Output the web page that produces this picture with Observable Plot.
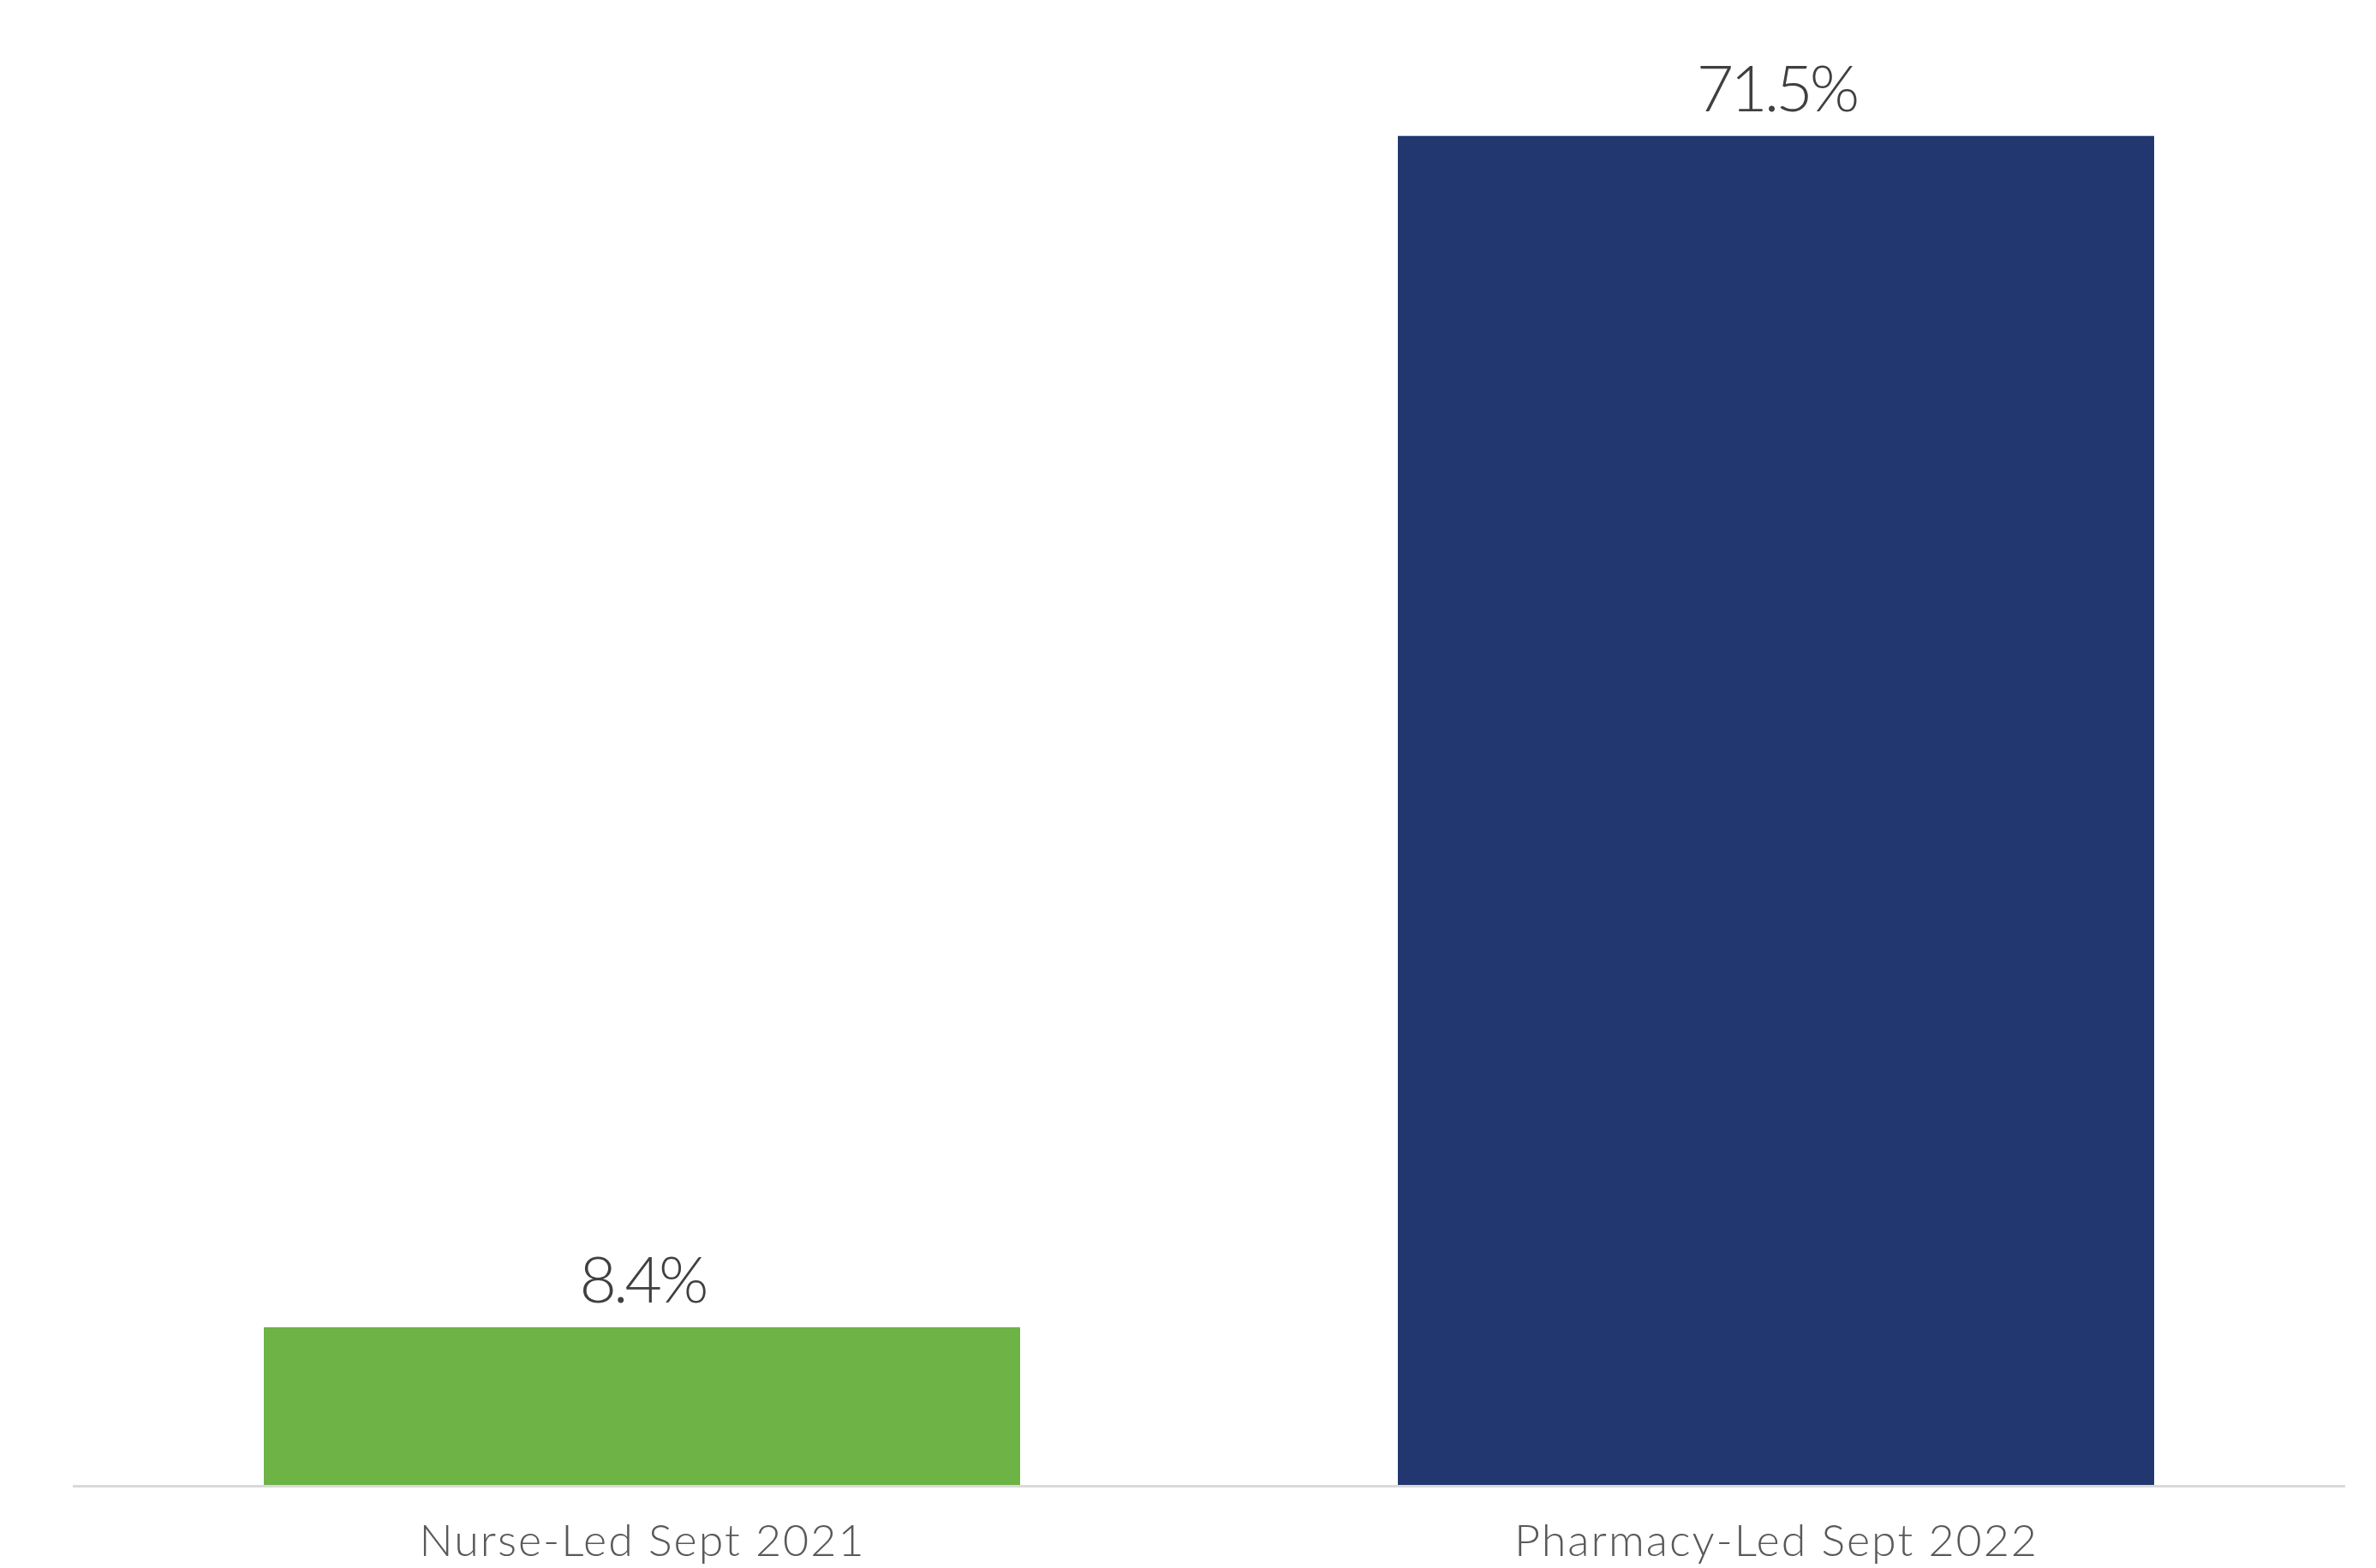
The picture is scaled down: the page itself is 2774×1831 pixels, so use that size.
<!DOCTYPE html>
<html>
<head>
<meta charset="utf-8">
<script src="https://cdn.jsdelivr.net/npm/d3@7"></script>
<script src="https://cdn.jsdelivr.net/npm/@observablehq/plot@0.6"></script>
<style>
  html, body { margin: 0; padding: 0; background: #ffffff; }
  #chart { width: 2774px; height: 1831px; }
  .axis-x text { letter-spacing: 2px; }
  .value-label text { letter-spacing: -4px; }
</style>
</head>
<body>
<div id="chart"></div>
<script>
const categories = ["Nurse-Led Sept 2021", "Pharmacy-Led Sept 2022"];
const values = [8.4, 71.5];
const valueLabels = ["8.4%", "71.5%"];
const barColors = ["#6db346", "#22376f"];

const data = categories.map((c, i) => ({category: c, value: values[i], label: valueLabels[i], color: barColors[i]}));

const chart = Plot.plot({
  width: 2774,
  height: 1831,
  marginTop: 0,
  marginBottom: 96,
  marginLeft: 85,
  marginRight: 36,
  style: {fontFamily: "Lato, 'Noto Sans', sans-serif", background: "#ffffff"},
  x: {domain: categories, paddingInner: 0.333, paddingOuter: 0.168, label: null},
  y: {domain: [0, 78.7], axis: null},
  marks: [
    Plot.barY(data, {x: "category", y: "value", fill: "color"}),
    Plot.ruleY([0], {stroke: "#d9d9d9", strokeWidth: 3}),
    Plot.text(data, {x: "category", y: "value", text: "label", fontSize: 75, fontWeight: 300, fill: "#404040", dy: -53, textAnchor: "middle", className: "value-label"}),
    Plot.axisX({tickSize: 0, tickPadding: 45, fontSize: 52, color: "#595959", fontWeight: 300, label: null, className: "axis-x"})
  ]
});
document.getElementById("chart").appendChild(chart);
</script>
</body>
</html>
